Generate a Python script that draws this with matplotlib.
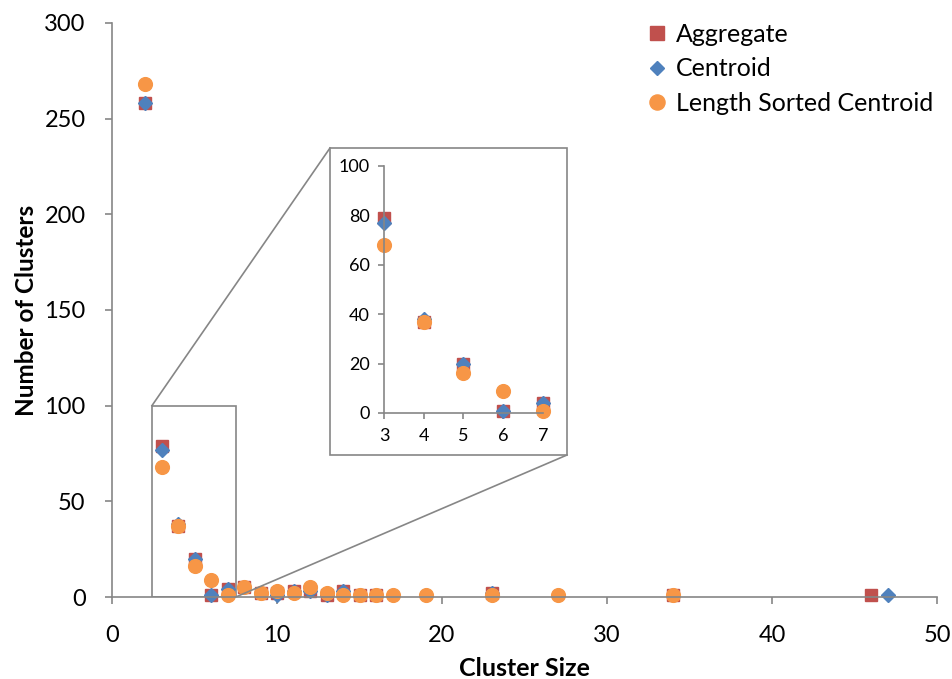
import matplotlib
matplotlib.use("Agg")
import matplotlib.pyplot as plt
import numpy as np
from matplotlib.patches import Rectangle
from matplotlib.lines import Line2D

plt.rcParams["font.family"] = ["Lato", "DejaVu Sans"]

# cluster size / number of clusters for each method
agg_x = [2, 3, 4, 5, 6, 7, 8, 9, 10, 11, 12, 13, 14, 15, 16, 23, 34, 46]
agg_y = [258, 79, 37, 20, 1, 4, 5, 2, 2, 3, 3, 1, 3, 1, 1, 2, 1, 1]
cen_x = [2, 3, 4, 5, 6, 7, 8, 9, 10, 11, 12, 13, 14, 15, 16, 23, 34, 47]
cen_y = [258, 77, 38, 20, 1, 4, 5, 2, 1, 3, 3, 1, 3, 1, 1, 2, 1, 1]
lsc_x = [2, 3, 4, 5, 6, 7, 8, 9, 10, 11, 12, 13, 14, 15, 16, 17, 19, 23, 27, 34]
lsc_y = [268, 68, 37, 16, 9, 1, 5, 2, 3, 2, 5, 2, 1, 1, 1, 1, 1, 1, 1, 1]

RED = "#C0504D"
BLUE = "#4F81BD"
ORANGE = "#F79646"
GREY = "#868686"

W, H = 953, 679
fig = plt.figure(figsize=(W / 100, H / 100), dpi=100)


def px_axes(x0, y0, x1, y1):
    # pixel box (top-left origin) -> figure fraction
    return [x0 / W, 1 - y1 / H, (x1 - x0) / W, (y1 - y0) / H]


def style(ax, fs, xpad, ypad):
    for s in ["top", "right"]:
        ax.spines[s].set_visible(False)
    for s in ["left", "bottom"]:
        ax.spines[s].set_color(GREY)
        ax.spines[s].set_linewidth(1.2)
    ax.tick_params(direction="out", colors=GREY, labelcolor="black",
                   labelsize=fs, width=1.2, length=5)
    ax.tick_params(axis="x", pad=xpad)
    ax.tick_params(axis="y", pad=ypad)


def draw(ax, xs, ms, clip=True):
    ax.plot(xs[0][0], xs[0][1], "s", color=RED, ms=ms, ls="none",
            label="Aggregate", clip_on=clip)
    ax.plot(xs[1][0], xs[1][1], "D", color=BLUE, ms=ms * 0.75, ls="none",
            label="Centroid", clip_on=clip)
    ax.plot(xs[2][0], xs[2][1], "o", color=ORANGE, ms=ms * 1.1, ls="none",
            label="Length Sorted Centroid", clip_on=clip)


ax = fig.add_axes(px_axes(112, 23, 937, 597))
style(ax, 17, 15, 14)
draw(ax, [(agg_x, agg_y), (cen_x, cen_y), (lsc_x, lsc_y)], 9, clip=False)
ax.set_xlim(0, 50)
ax.set_ylim(0, 300)
ax.set_xticks(range(0, 51, 10))
ax.set_yticks(range(0, 301, 50))
ax.set_xlabel("Cluster Size", fontsize=18, fontweight="bold")
ax.set_ylabel("Number of Clusters", fontsize=17.5, fontweight="bold")
ax.xaxis.set_label_coords(0.5, -0.105)
ax.yaxis.set_label_coords(-0.09, 0.5)
leg = ax.legend(loc="upper right", bbox_to_anchor=(1.007, 1.017), frameon=False,
                fontsize=18, handletextpad=0.25, labelspacing=0.45,
                handlelength=1.0, borderaxespad=0.0, markerscale=1.1)

# zoom rectangle on the main axes
rx0, rx1, ry0, ry1 = 2.42, 7.5, 0, 100
ax.add_patch(Rectangle((rx0, ry0), rx1 - rx0, ry1 - ry0, fill=False,
                       ec=GREY, lw=1.2, zorder=1))

# inset frame and axes
fx0, fy0, fx1, fy1 = 330, 148, 567, 455
fig.patches.append(Rectangle((fx0 / W, 1 - fy1 / H), (fx1 - fx0) / W,
                             (fy1 - fy0) / H, transform=fig.transFigure,
                             fill=True, fc="white", ec=GREY, lw=1.2, zorder=3))

# connector lines
p1 = fig.transFigure.inverted().transform(ax.transData.transform((rx0, ry1)))
p2 = fig.transFigure.inverted().transform(ax.transData.transform((rx1, ry0)))
fig.lines.append(Line2D([p1[0], fx0 / W], [p1[1], 1 - fy0 / H],
                        transform=fig.transFigure, color=GREY, lw=1.2, zorder=2))
fig.lines.append(Line2D([p2[0], fx1 / W], [p2[1], 1 - fy1 / H],
                        transform=fig.transFigure, color=GREY, lw=1.2, zorder=2))

ins = fig.add_axes(px_axes(384, 166, 543, 413))
ins.set_zorder(4)
ins.patch.set_alpha(0)
style(ins, 13, 7, 6)
ins.tick_params(length=4)


def window(x, y):
    x = np.array(x)
    y = np.array(y)
    m = (x >= 3) & (x <= 7)
    return x[m], y[m]


draw(ins, [window(agg_x, agg_y), window(cen_x, cen_y), window(lsc_x, lsc_y)],
     9, clip=False)
ins.set_xlim(3, 7)
ins.set_ylim(0, 100)
ins.set_xticks(range(3, 8))
ins.set_yticks(range(0, 101, 20))

fig.savefig("out.png", dpi=100)
